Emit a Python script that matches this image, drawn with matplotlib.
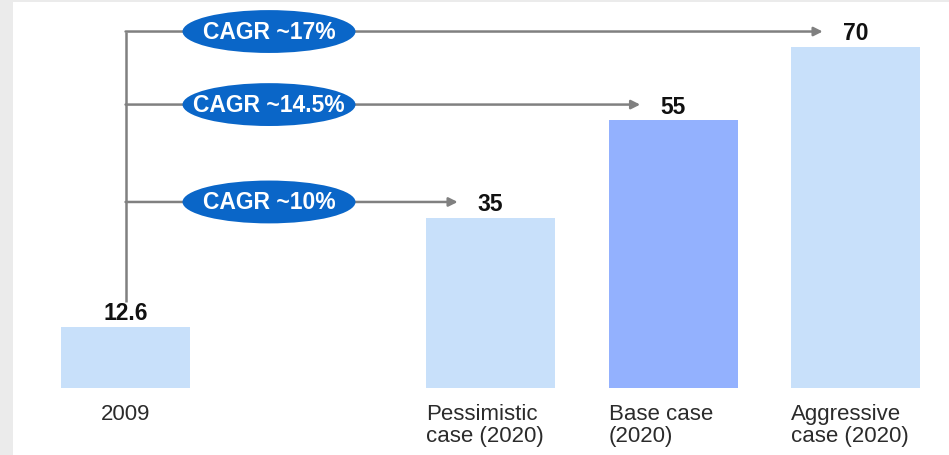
import matplotlib
matplotlib.use("Agg")
import matplotlib.pyplot as plt
from matplotlib.patches import Ellipse, Rectangle

categories = ["2009", "Pessimistic\ncase (2020)", "Base case\n(2020)", "Aggressive\ncase (2020)"]
positions = [0, 2, 3, 4]
values = [12.6, 35, 55, 70]
value_labels = ["12.6", "35", "55", "70"]
bar_colors = ["#c8e0fa", "#c8e0fa", "#93b1fe", "#c8e0fa"]
cagr_labels = ["CAGR ~10%", "CAGR ~14.5%", "CAGR ~17%"]
cagr_targets = [1, 2, 3]  # indices into positions/values

plt.rcParams['font.family'] = ['Liberation Sans', 'DejaVu Sans']

fig = plt.figure(figsize=(9.49, 4.56), dpi=100)
fig.patch.set_facecolor("white")
# light gray frame strips (left and top)
fig.add_artist(Rectangle((0, 0), 12.5 / 949, 1, transform=fig.transFigure,
                         facecolor="#ebebeb", edgecolor="none", zorder=0))
fig.add_artist(Rectangle((0, 1 - 3 / 456), 1, 3 / 456, transform=fig.transFigure,
                         facecolor="#ebebeb", edgecolor="none", zorder=0))

ax = fig.add_axes([0, 0, 1, 1])
ax.set_facecolor("none")
ax.set_xlim(-0.688, 4.512)
ax.set_ylim(-13.76, 79.88)
ax.axis("off")

bar_w = 0.707
ax.bar(positions, values, width=bar_w, color=bar_colors, edgecolor="none", zorder=1)

# value labels
for x, v, lab in zip(positions, values, value_labels):
    ax.text(x, v + 2.9, lab, ha="center", va="center", fontsize=16.5,
            fontweight="bold", color="#111111", zorder=5)

# category labels
for i, (x, cat) in enumerate(zip(positions, categories)):
    if i == 0:
        ax.text(x, -3.0, cat, ha="center", va="top", fontsize=16,
                color="#2b2b2b", linespacing=1.1)
    else:
        ax.text(x - bar_w / 2, -3.0, cat, ha="left", va="top", fontsize=16,
                color="#2b2b2b", linespacing=1.1)

line_col = "#808080"
arrow_ys = [values[t] + 3.2 for t in cagr_targets]
# vertical connector from 2009 bar
ax.plot([positions[0], positions[0]], [values[0] + 5.1, max(arrow_ys)],
        color=line_col, lw=1.8, zorder=2, solid_capstyle="butt")

ell_x = 0.786
for lab, t, y in zip(cagr_labels, cagr_targets, arrow_ys):
    ax.annotate("", xy=(positions[t] - 0.18, y), xytext=(positions[0], y),
                arrowprops=dict(arrowstyle="-|>", color=line_col, lw=1.8,
                                mutation_scale=13, shrinkA=0, shrinkB=0),
                zorder=2)
    ax.add_patch(Ellipse((ell_x, y), width=0.948, height=8.8,
                         facecolor="#0a66c8", edgecolor="none", zorder=3))
    ax.text(ell_x, y, lab, ha="center", va="center", fontsize=16.5,
            fontweight="bold", color="white", zorder=4)

fig.savefig("out.png", dpi=100)
